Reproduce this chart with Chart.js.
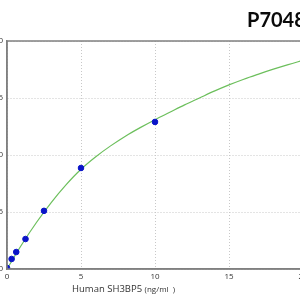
<!DOCTYPE html>
<html><head><meta charset="utf-8">
<script src="https://cdn.jsdelivr.net/npm/chart.js@4"></script>
<style>
html,body{margin:0;padding:0;overflow:hidden;width:300px;height:300px;background:#fff}
#wrap{position:absolute;left:-23px;top:0;width:340px;height:300px}
</style></head>
<body><div id="wrap"><canvas id="c" width="340" height="300"></canvas></div>
<script>
const titleText = 'P7048';
const xAxisLabel = 'Human SH3BP5 ';
const xAxisUnit = '(ng/ml  )';
const stdConc = [0, 0.3125, 0.625, 1.25, 2.5, 5, 10];
const stdOD = [0.01, 0.088, 0.149, 0.263, 0.51, 0.886, 1.29];
const curveX = [0,1,2,3,4,5,6,7,8,9,10,11,12,13,14,15,16,17,18,19,20];
const curveY = [0,0.215,0.41,0.585,0.74,0.875,0.985,1.08,1.165,1.24,1.31,1.375,1.44,1.5,1.56,1.615,1.665,1.71,1.753,1.793,1.83];
const xTicks = [0,5,10,15,20];
const yTicks = [0,0.5,1.0,1.5,2.0];

const OFF = 23;
const deco = {
  id:'deco',
  afterDraw(chart){
    const ctx = chart.ctx, a = chart.chartArea;
    ctx.save();
    ctx.strokeStyle = '#808080'; ctx.lineWidth = 1.5;
    ctx.strokeRect(a.left, a.top, a.right - a.left, a.bottom - a.top);
    ctx.fillStyle = '#0a0a0a';
    ctx.font = 'bold 20px Lato';
    ctx.textBaseline = 'alphabetic'; ctx.textAlign = 'left';
    ctx.fillText(titleText, 247 + OFF, 27);
    ctx.fillStyle = '#333';
    ctx.font = '9.5px "Open Sans"';
    ctx.fillText(xAxisLabel, 72 + OFF, 292);
    const w = ctx.measureText(xAxisLabel).width;
    ctx.font = '8px "Open Sans"';
    ctx.fillText(xAxisUnit, 72 + OFF + w, 292);
    ctx.restore();
  }
};

new Chart(document.getElementById('c'), {
  type:'scatter',
  data:{datasets:[
    {data: stdConc.map((x,i)=>({x, y: stdOD[i]})), backgroundColor:'#0a14c8', borderColor:'#0a14c8', pointRadius:2.8, showLine:false},
    {data: curveX.map((x,i)=>({x, y: curveY[i]})), borderColor:'#6cbf5c', borderWidth:1.2, pointRadius:0, showLine:true, cubicInterpolationMode:'monotone', fill:false}
  ]},
  options:{
    responsive:false, devicePixelRatio:1, animation:false,
    layout:{padding:{top:41,right:14,left:0,bottom:0}},
    plugins:{legend:{display:false}, tooltip:{enabled:false}, title:{display:false}},
    scales:{
      x:{type:'linear', min:0, max:20,
        afterBuildTicks: s => { s.ticks = xTicks.map(v=>({value:v})); },
        afterFit: s => { s.height = 31; },
        ticks:{font:{family:'Open Sans', size:8}, color:'#333', padding:3},
        grid:{color:'#c8c8c8', drawTicks:false, lineWidth:1},
        border:{display:true, color:'#808080', width:1.5, dash:[1,2]}
      },
      y:{type:'linear', min:0, max:2,
        afterBuildTicks: s => { s.ticks = yTicks.map(v=>({value:v})); },
        afterFit: s => { s.width = 30; },
        ticks:{font:{family:'Open Sans', size:8}, color:'#333', padding:4, callback: v => Number(v).toFixed(1)},
        grid:{color:'#c8c8c8', drawTicks:false, lineWidth:1},
        border:{display:true, color:'#808080', width:1.5, dash:[1,2]}
      }
    }
  },
  plugins:[deco]
});
</script>
</body></html>
